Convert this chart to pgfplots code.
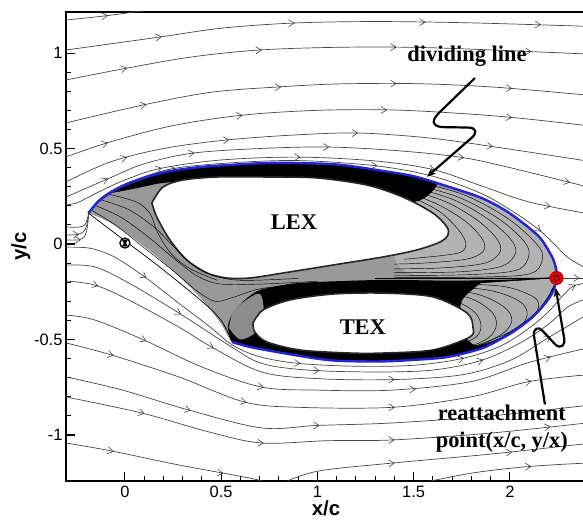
\documentclass[border=0pt]{standalone}
\usepackage{fontspec}
\setmainfont{Liberation Sans}
\newfontfamily\tnr{Liberation Serif}
\usepackage{pgfplots}
\usepackage{pgfplotstable}
\pgfplotsset{compat=1.18}
\usetikzlibrary{arrows.meta}
\definecolor{divblue}{RGB}{35,35,215}
\definecolor{sl}{RGB}{70,70,70}
\tikzset{
 sline/.style={sl, line width=0.7bp, smooth, tension=0.55},
 fanline/.style={black, line width=0.45bp, smooth, tension=0.55},
 annot/.style={black, line width=2.2bp},
 lab/.style={font=\tnr\bfseries\fontsize{22.5}{27}\selectfont, align=center},
}
% arrow heads on the streamlines: position (x,y) and a short direction vector (u,v)
\pgfplotstableread{
x y u v
-0.10 1.195 0.012 0.0013
0.18 1.084 0.012 0.0017
0.87 1.157 0.012 0.0005
1.55 1.162 0.012 0.0
2.15 1.149 0.012 -0.0004
0.00 0.919 0.012 0.0023
0.70 1.016 0.012 0.0008
1.40 1.031 0.012 0.0
2.10 1.008 0.012 -0.0005
0.10 0.729 0.012 0.0024
0.80 0.822 0.012 0.0007
1.40 0.840 0.012 0.0
2.00 0.815 0.012 -0.0010
-0.10 0.527 0.012 0.0038
0.60 0.673 0.012 0.0014
1.35 0.702 0.012 0.0
2.00 0.663 0.012 -0.0011
0.00 0.451 0.012 0.0032
0.53 0.545 0.012 0.0012
1.20 0.581 0.012 0.0
1.90 0.512 0.012 -0.0017
-0.10 0.337 0.012 0.0054
0.35 0.476 0.012 0.0016
1.05 0.508 0.012 0.0
1.75 0.453 0.012 -0.0018
2.30 0.325 0.012 -0.0030
0.18 0.395 0.012 0.0034
0.90 0.455 0.012 0.0
1.60 0.390 0.012 -0.0030
2.20 0.198 0.012 -0.0024
0.25 0.395 0.012 0.0024
1.30 0.410 0.012 -0.0012
2.15 0.075 0.012 -0.0090
-0.25 0.050 0.012 0.0006
-0.24 0.022 0.012 0.0
0.10 -0.170 0.012 -0.0090
0.90 -0.625 0.012 -0.0012
1.75 -0.600 0.012 0.0030
2.33 -0.220 0.012 0.0060
0.28 -0.361 0.012 -0.0072
1.00 -0.662 0.012 -0.0006
1.85 -0.610 0.012 0.0036
-0.15 -0.216 0.012 -0.0036
0.45 -0.539 0.012 -0.0066
1.39 -0.710 0.012 0.0
2.20 -0.490 0.012 0.0078
0.10 -0.503 0.012 -0.0054
0.71 -0.749 0.012 -0.0024
1.50 -0.760 0.012 0.0008
2.20 -0.595 0.012 0.0034
-0.07 -0.581 0.012 -0.0030
0.62 -0.827 0.012 -0.0030
1.39 -0.855 0.012 0.0
2.10 -0.720 0.012 0.0024
0.33 -0.869 0.012 -0.0034
1.00 -0.950 0.012 0.0004
1.90 -0.900 0.012 0.0011
0.09 -0.885 0.012 -0.0030
0.71 -1.042 0.012 -0.0006
1.39 -1.026 0.012 0.0004
2.20 -0.958 0.012 0.0012
-0.07 -1.084 0.012 -0.0024
0.50 -1.200 0.012 -0.0024
1.39 -1.147 0.012 0.0011
2.00 -1.090 0.012 0.0012
2.10 -1.165 0.012 0.0007
2.35 -0.178 0.012 0.0
}\arrowtab
\begin{document}
\begin{tikzpicture}
\begin{axis}[
  name=ax,
  scale only axis, width=520bp, height=469bp,
  xmin=-0.306, xmax=2.3953, ymin=-1.241, ymax=1.215,
  xtick={0,0.5,1,1.5,2}, ytick={-1,-0.5,0,0.5,1},
  minor x tick num=4, minor y tick num=4,
  xtick pos=left, ytick pos=left,
  tick align=inside,
  major tick length=9bp, minor tick length=5bp,
  every tick/.style={black, line width=1.1bp},
  axis line style={line width=1.4bp},
  /pgf/number format/assume math mode=true,
  tick label style={font=\fontsize{16.5}{19}\selectfont},
  xticklabel style={yshift=-2bp},
  xlabel={\bfseries x/c}, ylabel={\bfseries y/c},
  label style={font=\fontsize{20.5}{23}\selectfont},
  xlabel style={yshift=4bp},
  ylabel style={yshift=-3bp},
]
% ---------- outer streamlines ----------
\addplot[sline] coordinates {(-0.306,1.173)(-0.1,1.195)(0.12,1.225)};
\addplot[sline] coordinates {(-0.306,1.016)(0.182,1.084)(0.5,1.13)(0.873,1.157)(1.3,1.165)(1.8,1.158)(2.4,1.14)};
\addplot[sline] coordinates {(-0.306,0.859)(0.010,0.921)(0.35,0.98)(0.701,1.016)(1.1,1.03)(1.5,1.03)(1.912,1.016)(2.4,0.995)};
\addplot[sline] coordinates {(-0.306,0.634)(0.094,0.728)(0.45,0.795)(0.790,0.822)(1.1,0.838)(1.5,0.84)(1.912,0.822)(2.4,0.78)};
\addplot[sline] coordinates {(-0.306,0.456)(-0.078,0.534)(0.25,0.62)(0.613,0.675)(1.0,0.70)(1.392,0.702)(1.8,0.68)(2.088,0.655)(2.4,0.62)};
\addplot[sline] coordinates {(-0.306,0.325)(-0.078,0.429)(0.2,0.50)(0.530,0.545)(0.9,0.572)(1.221,0.581)(1.584,0.555)(1.912,0.51)(2.4,0.435)};
\addplot[sline] coordinates {(-0.306,0.246)(-0.078,0.346)(0.1,0.42)(0.353,0.476)(0.7,0.50)(1.049,0.508)(1.4,0.49)(1.740,0.455)(2.0,0.40)(2.4,0.30)};
\addplot[sline] coordinates {(-0.306,0.204)(-0.25,0.215)(-0.19,0.245)(-0.1,0.29)(0.0,0.335)(0.18,0.395)(0.5,0.44)(0.9,0.455)(1.3,0.435)(1.6,0.39)(1.85,0.305)(2.1,0.22)(2.4,0.16)};
\addplot[sline] coordinates {(-0.306,0.089)(-0.234,0.089)(-0.205,0.105)(-0.19,0.15)(-0.165,0.20)(-0.12,0.245)(-0.05,0.29)(0.05,0.335)(0.25,0.395)(0.55,0.425)(0.9,0.437)(1.3,0.41)(1.6,0.355)(1.85,0.265)(2.016,0.17)(2.15,0.075)(2.24,-0.01)(2.30,-0.07)(2.4,-0.13)};
\addplot[sline] coordinates {(-0.306,0.047)(-0.25,0.05)(-0.215,0.065)(-0.198,0.10)(-0.19,0.155)};
\addplot[sline] coordinates {(-0.306,0.021)(-0.24,0.022)(-0.21,0.04)(-0.195,0.09)(-0.188,0.155)};
\addplot[sline] coordinates {(-0.306,-0.016)(-0.22,-0.018)(-0.156,-0.028)(-0.05,-0.07)(0.1,-0.17)(0.28,-0.31)(0.45,-0.44)(0.56,-0.53)(0.7,-0.59)(0.9,-0.625)(1.2,-0.64)(1.5,-0.635)(1.75,-0.60)(1.95,-0.535)(2.1,-0.44)(2.2,-0.355)(2.27,-0.275)(2.33,-0.22)(2.4,-0.205)};
\addplot[sline] coordinates {(-0.306,-0.11)(-0.156,-0.12)(0.02,-0.204)(0.28,-0.361)(0.54,-0.53)(0.71,-0.625)(0.95,-0.66)(1.3,-0.67)(1.6,-0.66)(1.85,-0.61)(2.05,-0.52)(2.2,-0.42)(2.3,-0.33)(2.4,-0.285)};
\addplot[sline] coordinates {(-0.306,-0.194)(-0.156,-0.215)(0.02,-0.293)(0.28,-0.435)(0.45,-0.539)(0.71,-0.67)(1.0,-0.705)(1.39,-0.71)(1.75,-0.685)(2.0,-0.61)(2.2,-0.49)(2.4,-0.37)};
\addplot[sline] coordinates {(-0.306,-0.372)(-0.156,-0.398)(0.10,-0.503)(0.40,-0.644)(0.71,-0.749)(1.0,-0.765)(1.39,-0.765)(1.8,-0.72)(2.1,-0.62)(2.4,-0.545)};
\addplot[sline] coordinates {(-0.306,-0.518)(-0.07,-0.581)(0.28,-0.696)(0.62,-0.827)(0.9,-0.855)(1.39,-0.855)(1.8,-0.80)(2.1,-0.72)(2.4,-0.685)};
\addplot[sline] coordinates {(-0.306,-0.696)(-0.016,-0.764)(0.33,-0.869)(0.71,-0.963)(1.0,-0.95)(1.39,-0.937)(1.9,-0.90)(2.4,-0.845)};
\addplot[sline] coordinates {(-0.306,-0.801)(0.088,-0.885)(0.436,-0.984)(0.71,-1.042)(1.05,-1.03)(1.39,-1.026)(1.9,-0.99)(2.4,-0.937)};
\addplot[sline] coordinates {(-0.306,-1.042)(-0.068,-1.084)(0.28,-1.157)(0.62,-1.22)(0.75,-1.25)};
\addplot[sline] coordinates {(0.80,-1.26)(1.0,-1.19)(1.39,-1.147)(1.9,-1.10)(2.4,-1.045)};
\addplot[sline] coordinates {(1.5,-1.26)(1.8,-1.20)(2.1,-1.165)(2.4,-1.147)};
\addplot[sl, line width=0.7bp] coordinates {(2.242,-0.178)(2.4,-0.178)};
\addplot[sl, line width=0.6bp, -{Straight Barb[length=5.5bp,width=7bp]},
  quiver={u=\thisrow{u}, v=\thisrow{v}}] table[x=x,y=y] {\arrowtab};
% ---------- recirculation region ----------
\addplot[fill=black!40, draw=none, smooth, tension=0.5] coordinates {
(-0.19,0.162)(-0.130,0.230)(-0.052,0.283)(0.026,0.319)(0.130,0.356)(0.234,0.382)(0.390,0.403)(0.545,0.414)(0.727,0.424)(0.909,0.424)(1.117,0.415)(1.325,0.385)(1.50,0.355)(1.65,0.31)(1.844,0.245)(1.97,0.18)(2.068,0.11)(2.15,0.04)(2.19,-0.016)(2.225,-0.08)(2.24,-0.13)(2.242,-0.178)(2.228,-0.24)(2.197,-0.293)(2.15,-0.35)(2.10,-0.398)(2.016,-0.46)(1.92,-0.515)(1.844,-0.55)(1.673,-0.592)(1.496,-0.607)(1.325,-0.615)(1.117,-0.612)(0.997,-0.600)(0.821,-0.571)(0.649,-0.539)(0.556,-0.513)(0.504,-0.424)(0.416,-0.309)(0.312,-0.199)(0.156,-0.058)(0.0,0.063)(-0.104,0.126)(-0.19,0.162)};
\addplot[fill=black!30, draw=none, smooth, tension=0.5] coordinates {
(1.45,0.30)(1.65,0.29)(1.844,0.235)(1.97,0.17)(2.068,0.10)(2.15,0.03)(2.19,-0.02)(2.22,-0.08)(2.23,-0.13)(2.2,-0.17)(1.9,-0.17)(1.5,-0.16)(1.4,-0.05)(1.45,0.30)};
\addplot[fill=black, draw=none, smooth, tension=0.5] coordinates {
(-0.08,0.265)(0.026,0.319)(0.130,0.356)(0.234,0.382)(0.390,0.403)(0.545,0.414)(0.727,0.424)(0.909,0.424)(1.117,0.415)(1.325,0.385)(1.50,0.352)(1.62,0.312)(1.50,0.22)(1.2,0.28)(0.8,0.32)(0.4,0.33)(0.2,0.32)(0.05,0.29)(-0.08,0.265)};
\addplot[fill=black, draw=none, smooth, tension=0.5] coordinates {
(0.556,-0.513)(0.535,-0.435)(0.561,-0.361)(0.623,-0.293)(0.701,-0.241)(0.857,-0.209)(0.997,-0.199)(1.340,-0.188)(1.688,-0.192)(1.948,-0.188)(2.10,-0.182)(2.242,-0.178)(2.228,-0.24)(2.197,-0.293)(2.15,-0.35)(2.10,-0.398)(2.016,-0.46)(1.92,-0.515)(1.844,-0.55)(1.673,-0.592)(1.496,-0.607)(1.325,-0.615)(1.117,-0.612)(0.997,-0.600)(0.821,-0.571)(0.649,-0.539)(0.556,-0.513)};
\addplot[fill=black!32, draw=none, smooth, tension=0.5] coordinates {
(1.85,-0.205)(2.05,-0.192)(2.225,-0.185)(2.215,-0.24)(2.185,-0.293)(2.14,-0.35)(2.09,-0.395)(2.01,-0.452)(1.92,-0.505)(1.82,-0.53)(1.75,-0.45)(1.75,-0.30)(1.85,-0.205)};
\addplot[fill=black!45, draw=none, smooth, tension=0.5] coordinates {
(0.54,-0.44)(0.56,-0.36)(0.62,-0.30)(0.70,-0.26)(0.72,-0.35)(0.68,-0.46)(0.60,-0.50)(0.54,-0.44)};
% holes
\addplot[fill=white, draw=black!85, line width=1.6bp, smooth, tension=0.5] coordinates {
(0.140,0.215)(0.197,0.298)(0.301,0.335)(0.478,0.351)(0.738,0.351)(0.997,0.346)(1.257,0.309)(1.444,0.246)(1.600,0.162)(1.673,0.089)(1.678,0.047)(1.636,0.010)(1.517,-0.031)(1.340,-0.068)(1.081,-0.110)(0.821,-0.152)(0.649,-0.178)(0.530,-0.178)(0.426,-0.152)(0.322,-0.084)(0.234,0.021)(0.166,0.141)(0.140,0.215)};
\addplot[fill=white, draw=black!85, line width=1.6bp, smooth, tension=0.5] coordinates {
(0.665,-0.414)(0.717,-0.346)(0.857,-0.293)(1.081,-0.262)(1.340,-0.257)(1.600,-0.277)(1.777,-0.361)(1.808,-0.435)(1.792,-0.487)(1.600,-0.555)(1.340,-0.571)(1.169,-0.571)(0.909,-0.555)(0.738,-0.513)(0.675,-0.461)(0.665,-0.414)};
% LEX right fan lines
\addplot[fanline] coordinates {(1.45,0.265)(1.62,0.18)(1.72,0.09)(1.77,0.01)(1.75,-0.04)(1.65,-0.06)(1.45,-0.08)};
\addplot[fanline] coordinates {(1.45,0.28)(1.64,0.20)(1.78,0.11)(1.86,0.02)(1.86,-0.04)(1.77,-0.08)(1.55,-0.10)(1.40,-0.105)};
\addplot[fanline] coordinates {(1.45,0.295)(1.67,0.22)(1.83,0.125)(1.93,0.03)(1.95,-0.04)(1.87,-0.10)(1.65,-0.125)(1.40,-0.13)};
\addplot[fanline] coordinates {(1.45,0.31)(1.70,0.235)(1.88,0.135)(2.0,0.03)(2.03,-0.045)(1.96,-0.115)(1.75,-0.145)(1.40,-0.15)};
\addplot[fanline] coordinates {(1.45,0.325)(1.72,0.25)(1.93,0.14)(2.06,0.03)(2.10,-0.05)(2.04,-0.135)(1.80,-0.16)(1.40,-0.165)};
\addplot[fanline] coordinates {(1.45,0.34)(1.75,0.262)(1.98,0.14)(2.12,0.02)(2.17,-0.06)(2.12,-0.15)(1.90,-0.172)(1.40,-0.175)};
% TEX right fan lines
\addplot[fanline] coordinates {(1.55,-0.26)(1.72,-0.30)(1.82,-0.36)(1.85,-0.43)(1.82,-0.49)(1.70,-0.54)(1.55,-0.56)};
\addplot[fanline] coordinates {(1.55,-0.245)(1.78,-0.28)(1.90,-0.35)(1.93,-0.42)(1.89,-0.49)(1.75,-0.55)(1.55,-0.575)};
\addplot[fanline] coordinates {(1.55,-0.23)(1.82,-0.26)(1.97,-0.33)(2.01,-0.40)(1.96,-0.47)(1.80,-0.545)(1.55,-0.585)};
\addplot[fanline] coordinates {(1.55,-0.215)(1.88,-0.24)(2.05,-0.30)(2.09,-0.37)(2.04,-0.44)(1.88,-0.52)(1.60,-0.585)};
\addplot[fanline] coordinates {(1.6,-0.205)(1.95,-0.22)(2.11,-0.27)(2.15,-0.32)(2.11,-0.39)(1.98,-0.47)(1.70,-0.58)};
% left fan lines
\addplot[fanline] coordinates {(-0.17,0.175)(-0.05,0.10)(0.10,-0.02)(0.25,-0.14)(0.38,-0.25)(0.47,-0.30)(0.56,-0.28)(0.7,-0.235)(0.9,-0.215)(1.2,-0.2)};
\addplot[fanline] coordinates {(-0.15,0.20)(-0.02,0.14)(0.13,0.03)(0.26,-0.08)(0.38,-0.17)(0.5,-0.21)(0.7,-0.21)(1.0,-0.195)};
\addplot[fanline] coordinates {(-0.12,0.23)(0.02,0.18)(0.15,0.09)(0.24,-0.0)(0.33,-0.09)(0.45,-0.16)(0.6,-0.19)(0.9,-0.18)};
\addplot[fanline] coordinates {(-0.08,0.26)(0.06,0.22)(0.13,0.16)(0.17,0.06)(0.24,-0.05)(0.34,-0.13)(0.48,-0.19)};
% separatrices
\addplot[black, line width=0.6bp] coordinates {(1.3,-0.178)(2.242,-0.178)};
\addplot[black, line width=0.7bp, smooth] coordinates {(-0.19,0.162)(-0.03,0.04)(0.18,-0.12)(0.40,-0.30)(0.50,-0.40)(0.556,-0.51)};
% dividing line
\addplot[divblue, line width=2.4bp, smooth, tension=0.5] coordinates {
(-0.19,0.162)(-0.130,0.230)(-0.052,0.283)(0.026,0.319)(0.130,0.356)(0.234,0.382)(0.390,0.403)(0.545,0.414)(0.727,0.424)(0.909,0.424)(1.117,0.415)(1.325,0.385)(1.50,0.355)(1.65,0.31)(1.844,0.245)(1.97,0.18)(2.068,0.11)(2.15,0.04)(2.19,-0.016)(2.225,-0.08)(2.24,-0.13)(2.242,-0.178)(2.228,-0.24)(2.197,-0.293)(2.15,-0.35)(2.10,-0.398)(2.016,-0.46)(1.92,-0.515)(1.844,-0.55)(1.673,-0.592)(1.496,-0.607)(1.325,-0.615)(1.117,-0.612)(0.997,-0.600)(0.821,-0.571)(0.649,-0.539)(0.556,-0.513)};
% markers
\addplot[only marks, mark=*, mark size=5bp, mark options={fill=white, draw=black, line width=1.3bp}] coordinates {(0.0,0.005)};
\addplot[only marks, mark=triangle*, mark size=3bp, mark options={fill=black, draw=black, rotate=180}] coordinates {(0.0,0.0135)};
\addplot[only marks, mark=triangle*, mark size=3bp, mark options={fill=black, draw=black}] coordinates {(0.0,-0.0035)};
\addplot[only marks, mark=*, mark size=6.5bp, mark options={fill=red!90!black, draw=red!75!black, line width=1bp}] coordinates {(2.242,-0.178)};
\addplot[only marks, mark=o, mark size=2.8bp, mark options={draw=black, line width=0.6bp}] coordinates {(2.242,-0.178)};
% annotations
\draw[annot, -{Stealth[length=9bp,width=7bp]}] (axis cs:1.818,0.869) -- (axis cs:1.63,0.685) .. controls (axis cs:1.58,0.635) and (axis cs:1.61,0.612) .. (axis cs:1.66,0.612) -- (axis cs:1.78,0.61) .. controls (axis cs:1.83,0.61) and (axis cs:1.83,0.58) .. (axis cs:1.80,0.555) -- (axis cs:1.569,0.352);
\draw[annot, -{Stealth[length=9bp,width=7bp]}] (axis cs:2.182,-0.84) -- (axis cs:2.125,-0.48) .. controls (axis cs:2.12,-0.44) and (axis cs:2.15,-0.43) .. (axis cs:2.17,-0.455) -- (axis cs:2.235,-0.525) .. controls (axis cs:2.265,-0.555) and (axis cs:2.29,-0.525) .. (axis cs:2.282,-0.495) -- (axis cs:2.238,-0.23);
\node[lab] at (axis cs:1.777,0.984) {dividing line};
\node[lab] at (axis cs:0.878,0.115) {LEX};
\node[lab] at (axis cs:1.236,-0.435) {TEX};
\node[lab] at (axis cs:1.958,-0.968) {reattachment\\point(x/c, y/x)};
\end{axis}
\pgfresetboundingbox
\path ([shift={(-66bp,-45bp)}]ax.south west) rectangle ([shift={(517bp,481bp)}]ax.south west);
\end{tikzpicture}
\end{document}
